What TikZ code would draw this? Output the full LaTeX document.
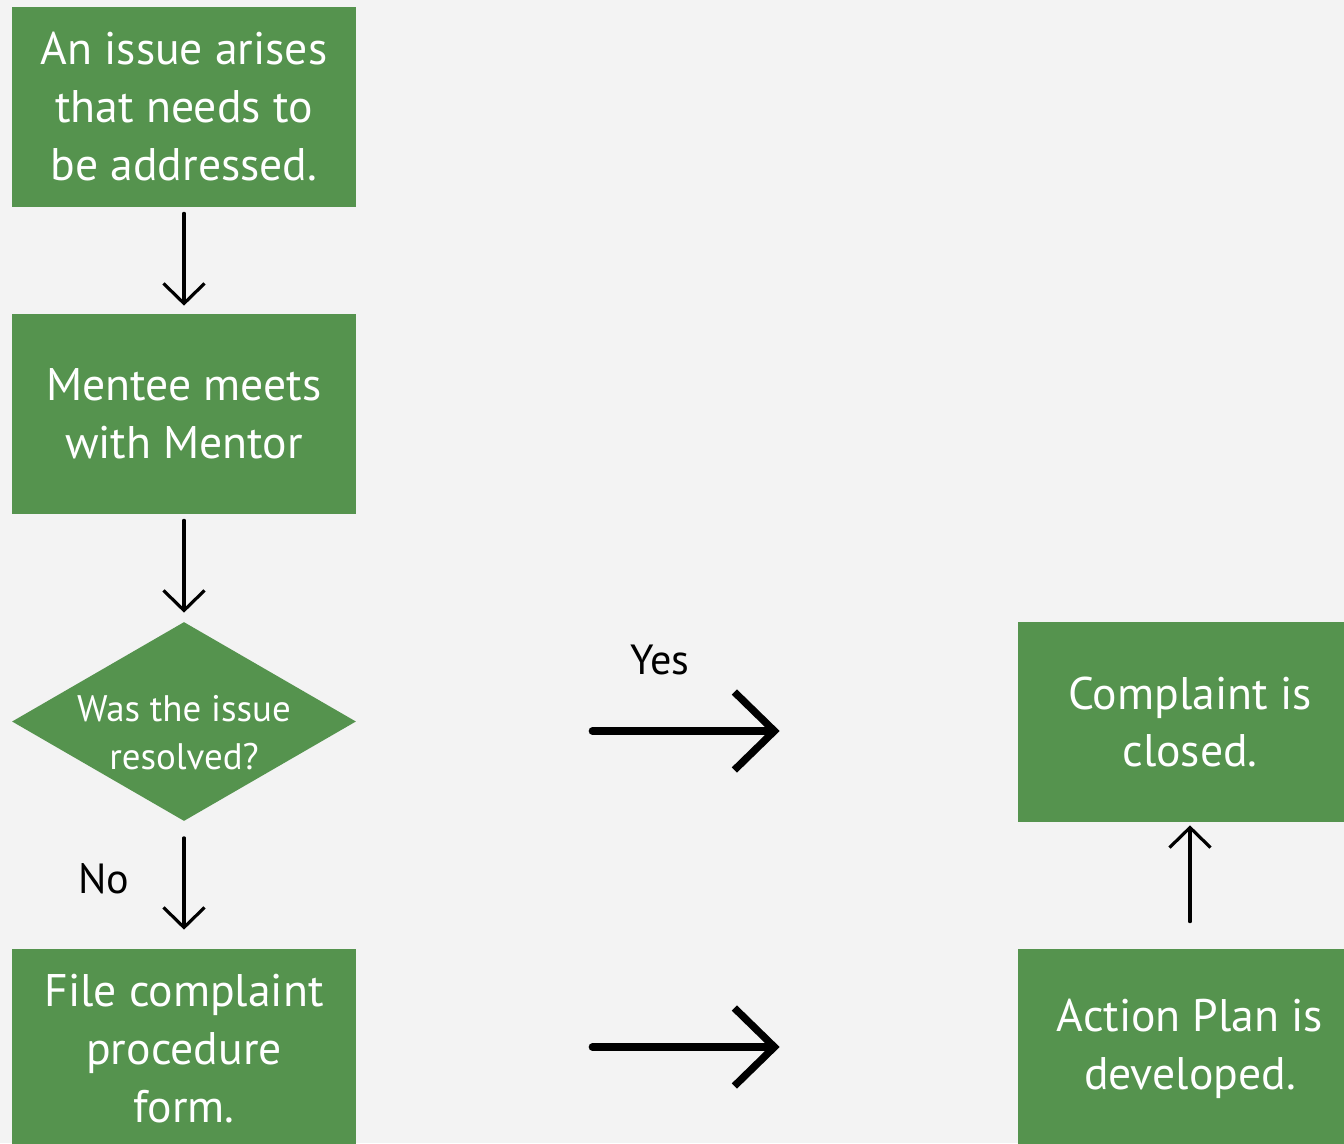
\documentclass[tikz,border=0pt]{standalone}
\usepackage{fontspec}
\setmainfont{PT Sans}
\usepackage{xcolor}
\usetikzlibrary{shapes.geometric, arrows.meta, positioning}
\definecolor{boxgreen}{RGB}{85, 147, 78}
\definecolor{pagegray}{RGB}{243, 243, 243}

\begin{document}
\begin{tikzpicture}[
    stage/.style={rectangle, fill=boxgreen, minimum width=6.88cm, minimum height=4cm, align=center, text=white, font=\fontsize{26}{33}\selectfont},
    decision/.style={diamond, fill=boxgreen, minimum width=6.88cm, minimum height=3.98cm, inner sep=0pt},
    dectext/.style={align=center, text=white, yshift=-0.22cm, font=\fontsize{21}{27}\selectfont},
    answer/.style={font=\fontsize{24}{28}\selectfont},
    flowarrow/.style={-{Straight Barb[length=0.4cm, width=0.82cm]}, line width=1.8pt, line cap=round},
    bigarrow/.style={-{Straight Barb[length=0.8cm, width=1.56cm]}, line width=4.2pt, line cap=round}
]
    % Background
    \fill[pagegray] (0,0) rectangle (26.88,-22.86);
    \clip (0,0) rectangle (26.88,-22.86);

    % Left column
    \node[stage] (issue) at (3.68,-2.14) {An issue arises\\that needs to\\be addressed.};
    \node[stage] (meet) at (3.68,-8.28) {Mentee meets\\with Mentor};
    \node[decision, label={[dectext]center:{Was the issue\\resolved?}}] (resolved) at (3.68,-14.43) {};
    \node[stage] (file) at (3.68,-20.98) {File complaint\\procedure\\form.};

    % Right column
    \node[stage] (closed) at (23.80,-14.44) {Complaint is\\closed.};
    \node[stage] (plan) at (23.80,-20.98) {Action Plan is\\developed.};

    % Answers
    \node[answer] (yes) at (13.2,-13.2) {Yes};
    \node[answer] (no) at (2.08,-17.58) {No};

    % Arrows
    \draw[flowarrow, shorten <=0.12cm, shorten >=0.16cm] (issue) -- (meet);
    \draw[flowarrow, shorten <=0.12cm, shorten >=0.18cm] (meet) -- (resolved);
    \draw[flowarrow, shorten <=0.33cm, shorten >=0.38cm] (resolved) -- (file);
    \draw[flowarrow, shorten <=0.54cm, shorten >=0.06cm] (plan) -- (closed);
    \draw[bigarrow, shorten <=4.72cm, shorten >=4.76cm] ([yshift=-0.19cm]resolved.east) -- ([yshift=-0.18cm]closed.west);
    \draw[bigarrow, shorten <=4.72cm, shorten >=4.76cm] ([yshift=0.04cm]file.east) -- ([yshift=0.04cm]plan.west);
\end{tikzpicture}
\end{document}
